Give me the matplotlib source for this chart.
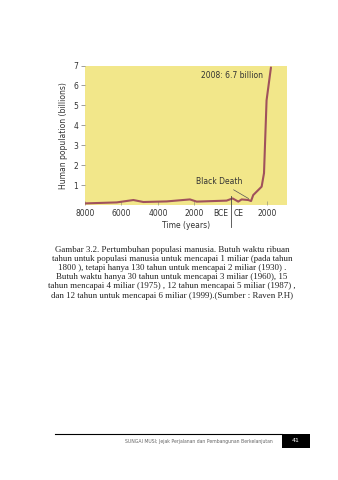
import matplotlib
matplotlib.use("Agg")
import matplotlib.pyplot as plt
from matplotlib.patches import Rectangle
from matplotlib.lines import Line2D

# population curve (years, billions)
years = [-8000, -6260, -5350, -4800, -3520, -2250, -1880, -240, 90, 400,
         585, 950, 1100, 1220, 1680, 1810, 1950, 2190]
pop = [0.08, 0.13, 0.25, 0.15, 0.18, 0.28, 0.17, 0.22, 0.33, 0.17,
       0.28, 0.25, 0.20, 0.50, 0.92, 1.60, 5.25, 6.90]

xticks = [-8000, -6000, -4000, -2000, 2000]
xticklabels = ['8000', '6000', '4000', '2000', '2000']
yticks = [1, 2, 3, 4, 5, 6, 7]

caption = ["Gambar 3.2. Pertumbuhan populasi manusia. Butuh waktu ribuan",
           "tahun untuk populasi manusia untuk mencapai 1 miliar (pada tahun",
           "1800 ), tetapi hanya 130 tahun untuk mencapai 2 miliar (1930) .",
           "Butuh waktu hanya 30 tahun untuk mencapai 3 miliar (1960), 15",
           "tahun mencapai 4 miliar (1975) , 12 tahun mencapai 5 miliar (1987) ,",
           "dan 12 tahun untuk mencapai 6 miliar (1999).(Sumber : Raven P.H)"]
footer = "SUNGAI MUSI; Jejak Perjalanan dan Pembangunan Berkelanjutan"
page_no = "41"

W, H = 338, 480
fig = plt.figure(figsize=(W / 100, H / 100), dpi=100)
fig.patch.set_facecolor('white')

# chart
ax = fig.add_axes([85 / W, (H - 205) / H, 202 / W, 139.5 / H])
ax.set_facecolor('#f2e78a')
ax.plot(years, pop, color='#a0525c', linewidth=1.5, solid_capstyle='round')
ax.set_xlim(-8000, 3070)
ax.set_ylim(0, 7)
ax.set_xticks(xticks)
ax.set_xticklabels(xticklabels)
ax.set_yticks(yticks)
ax.tick_params(axis='x', direction='in', length=3, width=0.5, color='#999977',
               labelsize=5.5, labelcolor='#333333', pad=3)
ax.tick_params(axis='y', direction='out', length=3, width=0.5, color='#777777',
               labelsize=5.5, labelcolor='#333333', pad=2)
for s in ax.spines.values():
    s.set_visible(False)
ax.set_xlabel('Time (years)', fontsize=5.5, color='#333333', labelpad=2)
ax.set_ylabel('Human population (billions)', fontsize=5.5, color='#333333', labelpad=4)

ax.text(1750, 6.5, '2008: 6.7 billion', fontsize=5.5, color='#333333',
        ha='right', va='center')
ax.annotate('Black Death', xy=(1100, 0.25), xytext=(600, 1.2),
            fontsize=5.5, color='#333333', ha='right', va='center',
            arrowprops=dict(arrowstyle='-', color='#555555', lw=0.5))

# BCE | CE divider
ax.add_line(Line2D([0, 0], [0.45, -1.1], color='#444444', lw=0.6, clip_on=False))
ax.text(-150, -0.2, 'BCE', fontsize=5.5, color='#333333', ha='right', va='top')
ax.text(150, -0.2, 'CE', fontsize=5.5, color='#333333', ha='left', va='top')

# caption
for i, line in enumerate(caption):
    fig.text(172 / W, 1 - (249.5 + i * 9.2) / H, line, family='Liberation Serif',
             fontsize=6.4, ha='center', va='center', color='#222222')

# footer
fig.add_artist(Line2D([55 / W, 282 / W], [1 - 434 / H, 1 - 434 / H],
                      color='black', lw=0.8))
fig.add_artist(Rectangle((282 / W, 1 - 448 / H), 28 / W, 14 / H,
                         facecolor='black', edgecolor='none'))
fig.text(273 / W, 1 - 442 / H, footer, fontsize=3.3, color='#666666',
         ha='right', va='center')
fig.text(296 / W, 1 - 441 / H, page_no, fontsize=4.5, color='white',
         ha='center', va='center')

fig.savefig('out.png', dpi=100)
